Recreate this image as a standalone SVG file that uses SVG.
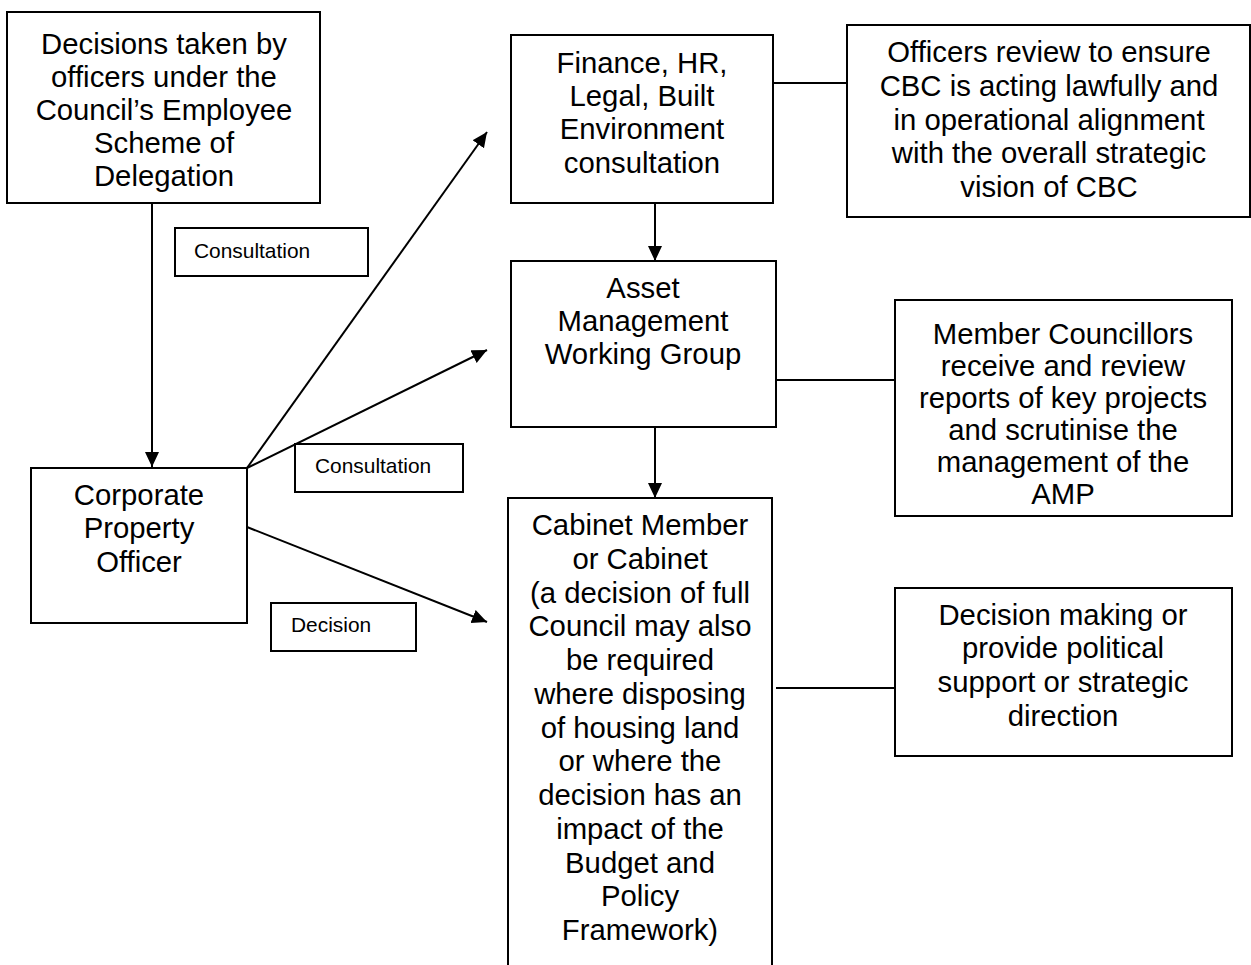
<svg xmlns="http://www.w3.org/2000/svg" width="1251" height="965" viewBox="0 0 1251 965">
<style>
.box{fill:#fff;stroke:#000;stroke-width:2}
.t{font-family:"Liberation Sans",Arial,sans-serif;font-size:29.3px;fill:#000;text-anchor:middle}
.s{font-family:"Liberation Sans",Arial,sans-serif;font-size:20.9px;fill:#000}
.ln{stroke:#000;stroke-width:2;fill:none}
.ar{marker-end:url(#ah)}
</style>
<defs>
<marker id="ah" markerUnits="userSpaceOnUse" markerWidth="16" markerHeight="16" refX="15" refY="7" orient="auto">
<path d="M0,0 L15,7 L0,14 z" fill="#000"/>
</marker>
</defs>
<rect width="1251" height="965" fill="#fff"/>
<g id="connectors">
<line class="ln ar" x1="152" y1="203" x2="152" y2="467"/>
<line class="ln ar" x1="247" y1="468" x2="487" y2="132"/>
<line class="ln ar" x1="247" y1="468" x2="487" y2="350"/>
<line class="ln ar" x1="247" y1="527" x2="487" y2="622"/>
<line class="ln ar" x1="655" y1="203" x2="655" y2="261"/>
<line class="ln ar" x1="655" y1="427" x2="655" y2="498"/>
<line class="ln" x1="773" y1="83" x2="847" y2="83"/>
<line class="ln" x1="776" y1="380" x2="895" y2="380"/>
<line class="ln" x1="776" y1="688" x2="895" y2="688"/>
</g>
<g id="n-decisions-officers">
<rect class="box" x="7" y="12" width="313" height="191"/>
<text class="t" x="164"><tspan x="164" y="54">Decisions taken by</tspan><tspan x="164" y="87">officers under the</tspan><tspan x="164" y="120">Council’s Employee</tspan><tspan x="164" y="153">Scheme of</tspan><tspan x="164" y="186">Delegation</tspan></text>
</g>
<g id="lbl-consultation-1">
<rect class="box" x="175" y="228" width="193" height="48"/>
<text class="s" x="194" y="258">Consultation</text>
</g>
<g id="n-corporate">
<rect class="box" x="31" y="468" width="216" height="155"/>
<text class="t"><tspan x="139" y="505">Corporate</tspan><tspan x="139" y="538">Property</tspan><tspan x="139" y="572">Officer</tspan></text>
</g>
<g id="lbl-consultation-2">
<rect class="box" x="295" y="444" width="168" height="48"/>
<text class="s" x="315" y="473">Consultation</text>
</g>
<g id="lbl-decision">
<rect class="box" x="271" y="603" width="145" height="48"/>
<text class="s" x="291" y="632">Decision</text>
</g>
<g id="n-finance">
<rect class="box" x="511" y="35" width="262" height="168"/>
<text class="t"><tspan x="642" y="73">Finance, HR,</tspan><tspan x="642" y="106">Legal, Built</tspan><tspan x="642" y="139">Environment</tspan><tspan x="642" y="173">consultation</tspan></text>
</g>
<g id="n-officers-review">
<rect class="box" x="847" y="25" width="403" height="192"/>
<text class="t"><tspan x="1049" y="62">Officers review to ensure</tspan><tspan x="1049" y="96">CBC is acting lawfully and</tspan><tspan x="1049" y="130">in operational alignment</tspan><tspan x="1049" y="163">with the overall strategic</tspan><tspan x="1049" y="197">vision of CBC</tspan></text>
</g>
<g id="n-asset">
<rect class="box" x="511" y="261" width="265" height="166"/>
<text class="t"><tspan x="643" y="298">Asset</tspan><tspan x="643" y="331">Management</tspan><tspan x="643" y="364">Working Group</tspan></text>
</g>
<g id="n-member">
<rect class="box" x="895" y="300" width="337" height="216"/>
<text class="t"><tspan x="1063" y="344">Member Councillors</tspan><tspan x="1063" y="376">receive and review</tspan><tspan x="1063" y="408">reports of key projects</tspan><tspan x="1063" y="440">and scrutinise the</tspan><tspan x="1063" y="472">management of the</tspan><tspan x="1063" y="504">AMP</tspan></text>
</g>
<g id="n-cabinet">
<rect class="box" x="508" y="498" width="264" height="480"/>
<text class="t"><tspan x="640" y="535">Cabinet Member</tspan><tspan x="640" y="569">or Cabinet</tspan><tspan x="640" y="603">(a decision of full</tspan><tspan x="640" y="636">Council may also</tspan><tspan x="640" y="670">be required</tspan><tspan x="640" y="704">where disposing</tspan><tspan x="640" y="738">of housing land</tspan><tspan x="640" y="771">or where the</tspan><tspan x="640" y="805">decision has an</tspan><tspan x="640" y="839">impact of the</tspan><tspan x="640" y="873">Budget and</tspan><tspan x="640" y="906">Policy</tspan><tspan x="640" y="940">Framework)</tspan></text>
</g>
<g id="n-decision-making">
<rect class="box" x="895" y="588" width="337" height="168"/>
<text class="t"><tspan x="1063" y="625">Decision making or</tspan><tspan x="1063" y="658">provide political</tspan><tspan x="1063" y="692">support or strategic</tspan><tspan x="1063" y="726">direction</tspan></text>
</g>
</svg>
